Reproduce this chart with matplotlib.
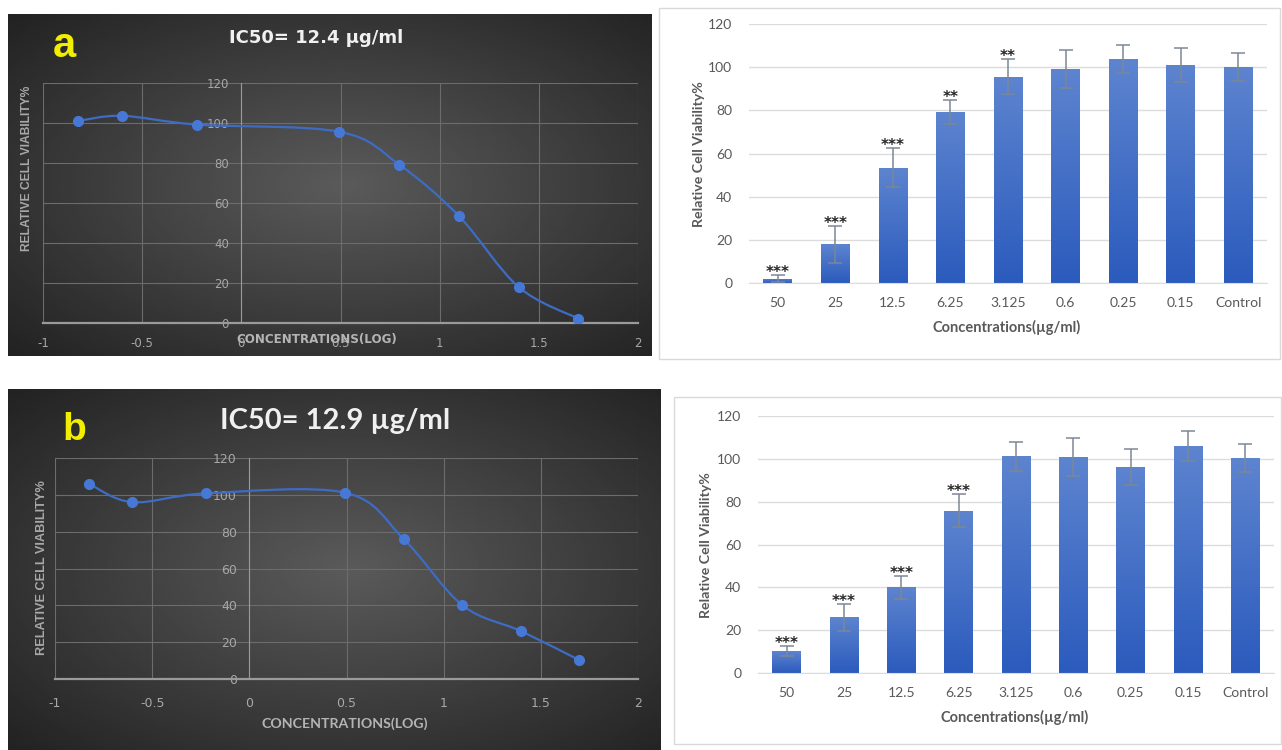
import numpy as np
import matplotlib.pyplot as plt
from matplotlib.path import Path
from matplotlib.patches import PathPatch, Rectangle
from matplotlib.colors import LinearSegmentedColormap

# concentrations (ug/ml) tested, highest first, plus the untreated control
conc = [50, 25, 12.5, 6.25, 3.125, 0.6, 0.25, 0.15]
bar_labels = ['50', '25', '12.5', '6.25', '3.125', '0.6', '0.25', '0.15', 'Control']

# relative viability (%) and SD, same order as bar_labels
via_a = [2.2, 18, 53.5, 79.2, 95.6, 99.2, 103.6, 101, 100]
err_a = [1.5, 8.5, 9, 5.5, 8.2, 8.8, 6.5, 7.7, 6.4]
sig_a = ['***', '***', '***', '**', '**', '', '', '', '']

via_b = [10.2, 26, 40, 75.8, 101.1, 100.8, 96, 106, 100.2]
err_b = [2.3, 6.2, 5.3, 7.7, 6.7, 9, 8.3, 7, 6.5]
sig_b = ['***', '***', '***', '***', '', '', '', '', '']

ic50_a = 12.4
ic50_b = 12.9

log_ticks = [-1, -0.5, 0, 0.5, 1, 1.5, 2]
via_ticks = [0, 20, 40, 60, 80, 100, 120]

W, H = 1282, 750
fig = plt.figure(figsize=(W / 100, H / 100), dpi=100)


def box(x0, y0, x1, y1):
    # pixel box (top-left origin) -> figure fraction rect
    return [x0 / W, 1 - y1 / H, (x1 - x0) / W, (y1 - y0) / H]


def dark_background(rect):
    bg = fig.add_axes(rect, zorder=0)
    yy, xx = np.mgrid[0:1:200j, 0:1:300j]
    r = np.sqrt(((xx - 0.52) / 0.62) ** 2 + ((yy - 0.5) / 0.62) ** 2)
    shade = np.clip(0.355 - 0.19 * r, 0.12, 1)
    bg.imshow(shade, cmap='gray', vmin=0, vmax=1, aspect='auto',
              extent=[0, 1, 0, 1], interpolation='bilinear')
    bg.set_axis_off()


def smooth_line(ax, xs, ys, color):
    # Excel-style smoothed line: cubic bezier through every point
    p = np.column_stack([xs, ys])
    n = len(p)
    verts = [p[0]]
    codes = [Path.MOVETO]
    for i in range(n - 1):
        prev = p[i - 1] if i > 0 else p[i]
        nxt = p[i + 2] if i + 2 < n else p[i + 1]
        verts += [p[i] + (p[i + 1] - prev) / 6,
                  p[i + 1] - (nxt - p[i]) / 6,
                  p[i + 1]]
        codes += [Path.CURVE4] * 3
    ax.add_patch(PathPatch(Path(verts, codes), fill=False, edgecolor=color,
                           lw=1.6, zorder=3))


def line_panel(rect, vals, xpad, tick_size):
    ax = fig.add_axes(rect, zorder=2)
    ax.patch.set_alpha(0)
    xs = np.log10(conc[::-1])
    ys = vals[:len(conc)][::-1]
    smooth_line(ax, xs, ys, '#3e6cc4')
    ax.plot(xs, ys, 'o', color='#4778d6', ms=7, mec='#4778d6', zorder=4)
    ax.set_xlim(-1, 2)
    ax.set_ylim(0, 120)
    ax.set_xticks(log_ticks)
    ax.set_xticklabels(['{:g}'.format(t) for t in log_ticks])
    ax.set_yticks(via_ticks)
    ax.grid(True, color='#6c6c6c', lw=0.8)
    ax.set_axisbelow(True)
    for s in ['top', 'right']:
        ax.spines[s].set_visible(False)
    ax.spines['left'].set_position(('data', 0))
    ax.spines['left'].set_color('#9a9a9a')
    ax.spines['bottom'].set_color('#9a9a9a')
    ax.spines['bottom'].set_linewidth(1.6)
    ax.tick_params(length=0, colors='#a8a8a8', labelsize=tick_size,
                   labelfontfamily='DejaVu Sans')
    ax.tick_params(axis='x', pad=xpad)
    ax.tick_params(axis='y', pad=9)
    return ax


def bar_panel(rect, vals, errs, sig):
    ax = fig.add_axes(rect, zorder=2)
    ax.patch.set_alpha(0)
    x = np.arange(len(bar_labels))
    bars = ax.bar(x, vals, width=0.5, color='none', zorder=2)
    cmap = LinearSegmentedColormap.from_list('bluegrad', ['#2b5bbd', '#5d84cf'])
    grad = np.linspace(0, 1, 100).reshape(-1, 1)
    for b in bars:
        x0 = b.get_x()
        im = ax.imshow(grad, cmap=cmap, aspect='auto', origin='lower',
                       extent=[x0, x0 + b.get_width(), 0, b.get_height()],
                       zorder=2)
        im.set_clip_path(b)
    ax.errorbar(x, vals, yerr=errs, fmt='none', ecolor='#7d8796',
                elinewidth=1.1, capsize=5, capthick=1.1, zorder=3)
    for xi, v, e, s in zip(x, vals, errs, sig):
        if s:
            ax.annotate(s, (xi, v + e), xytext=(0, -3.5), textcoords='offset points',
                        ha='center', va='bottom', fontsize=11,
                        fontweight='bold', color='#262626', zorder=4)
    ax.set_xlim(-0.5, len(bar_labels) - 0.5)
    ax.set_ylim(0, 120)
    ax.set_yticks(via_ticks)
    ax.set_xticks(x)
    ax.set_xticklabels(bar_labels)
    ax.yaxis.grid(True, color='#dcdcdc', lw=1)
    ax.set_axisbelow(True)
    for s in ['top', 'right', 'left']:
        ax.spines[s].set_visible(False)
    ax.spines['bottom'].set_color('#dcdcdc')
    ax.tick_params(length=0, colors='#595959', labelsize=10,
                   labelfontfamily='Lato')
    ax.tick_params(axis='x', pad=10)
    ax.tick_params(axis='y', pad=12)
    return ax


# ---- panel a : dose response (log scale) ----
dark_background(box(8, 14, 652, 356))
line_panel(box(43, 83, 638, 323), via_a, xpad=10, tick_size=8.5)
fig.text(64 / W, 1 - 46 / H, 'a', color='#f2ee00', fontsize=30, fontweight='bold',
         family='Liberation Sans', ha='center', va='center')
fig.text(316 / W, 1 - 38 / H, 'IC50= {} µg/ml'.format(ic50_a), color='#f0f0f0',
         fontsize=13, fontweight='bold', family='DejaVu Sans', ha='center',
         va='center')
fig.text(317 / W, 1 - 340 / H, 'CONCENTRATIONS(LOG)', color='#b4b4b4',
         fontsize=8.6, fontweight='bold', family='DejaVu Sans', ha='center',
         va='center', zorder=5)
fig.text(27 / W, 1 - 168 / H, 'RELATIVE CELL VIABILITY%', color='#a8a8a8',
         fontsize=8.7, fontweight='bold', family='Liberation Sans', rotation=90,
         ha='center', va='center')

# ---- panel a : bar chart ----
fig.patches.append(Rectangle((659 / W, 1 - 359 / H), 621 / W, 351 / H,
                             transform=fig.transFigure, facecolor='white',
                             edgecolor='#d9d9d9', lw=1, zorder=0))
bar_panel(box(749, 24, 1267, 283.3), via_a, err_a, sig_a)
fig.text(1007 / W, 1 - 327 / H, 'Concentrations(µg/ml)', color='#595959',
         fontsize=10.5, fontweight='bold', family='Lato', ha='center', va='center')
fig.text(699 / W, 1 - 154 / H, 'Relative Cell Viability%', color='#595959',
         fontsize=10.2, fontweight='bold', family='Lato', rotation=90,
         ha='center', va='center')

# ---- panel b : dose response (log scale) ----
dark_background(box(8, 389, 661, 750))
line_panel(box(55, 458, 638, 679), via_b, xpad=13, tick_size=9)
fig.text(74 / W, 1 - 430 / H, 'b', color='#f2ee00', fontsize=28, fontweight='bold',
         family='Liberation Sans', ha='center', va='center')
fig.text(335 / W, 1 - 421 / H, 'IC50= {} µg/ml'.format(ic50_b), color='#f0f0f0',
         fontsize=21, fontweight='bold', family='Lato', ha='center', va='center')
fig.text(345 / W, 1 - 724 / H, 'CONCENTRATIONS(LOG)', color='#b4b4b4',
         fontsize=10.2, fontweight='bold', family='Lato', ha='center', va='center')
fig.text(42 / W, 1 - 568 / H, 'RELATIVE CELL VIABILITY%', color='#a8a8a8',
         fontsize=9.2, fontweight='bold', family='Liberation Sans', rotation=90,
         ha='center', va='center')

# ---- panel b : bar chart ----
fig.patches.append(Rectangle((674 / W, 1 - 744 / H), 607 / W, 347 / H,
                             transform=fig.transFigure, facecolor='white',
                             edgecolor='#d9d9d9', lw=1, zorder=0))
bar_panel(box(758, 415.7, 1274, 673.3), via_b, err_b, sig_b)
fig.text(1015 / W, 1 - 717 / H, 'Concentrations(µg/ml)', color='#595959',
         fontsize=10.5, fontweight='bold', family='Lato', ha='center', va='center')
fig.text(706 / W, 1 - 545 / H, 'Relative Cell Viability%', color='#595959',
         fontsize=10.2, fontweight='bold', family='Lato', rotation=90,
         ha='center', va='center')

fig.savefig('out.png', dpi=100, facecolor='white')
